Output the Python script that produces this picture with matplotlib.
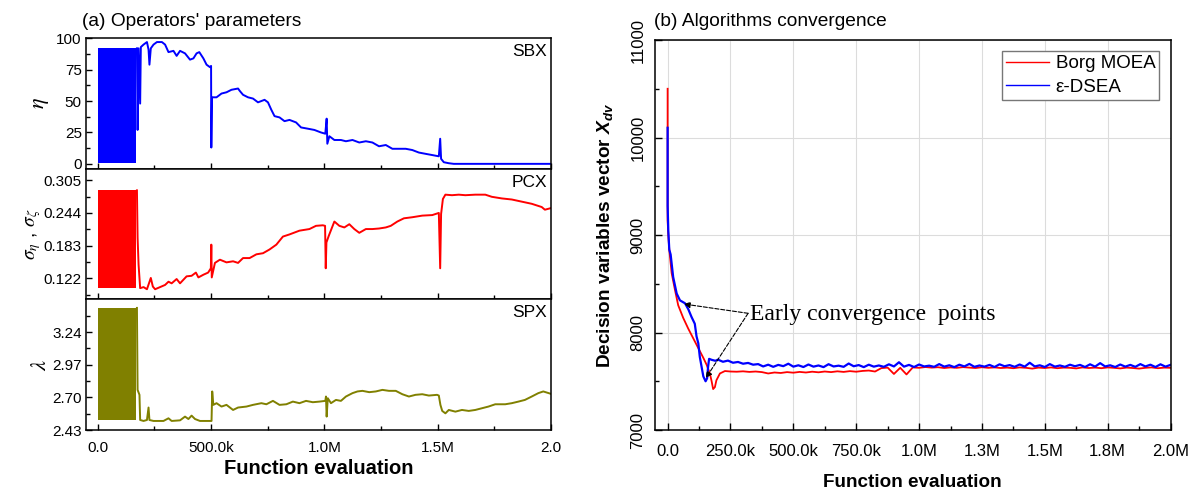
import numpy as np
import matplotlib.pyplot as plt

plt.rcParams['font.family'] = ['Liberation Sans', 'DejaVu Sans']
plt.rcParams['mathtext.fontset'] = 'custom'
plt.rcParams['mathtext.rm'] = 'Liberation Sans'
plt.rcParams['mathtext.it'] = 'Liberation Sans:italic'
plt.rcParams['mathtext.bf'] = 'Liberation Sans:bold'
plt.rcParams['mathtext.bfit'] = 'Liberation Sans:italic:bold'

# ---- (a) operators' parameters, x in thousands of evaluations ----
band_x_k = [0, 170]
sbx_band = [0.3, 92]
pcx_band = [0.104, 0.286]
spx_band = [2.513, 3.44]

sbx_x_k = [172.8, 175.7, 180, 187, 190, 202, 217, 224, 228, 234, 246, 261, 283, 297, 312,
           334, 348, 363, 385, 407, 422, 436, 448, 466, 480, 495, 500, 501, 504, 524,
           546, 568, 590, 619, 627, 641, 663, 685, 707, 736, 751, 766, 780, 802, 824,
           846, 875, 897, 927, 956, 985, 1004, 1010, 1013, 1022, 1044, 1073, 1095, 1124, 1154,
           1183, 1212, 1241, 1271, 1300, 1329, 1359, 1388, 1417, 1446, 1476, 1505, 1511, 1515, 1527,
           1549, 1571, 2000]
sbx_y = [92, 27, 92, 48, 93, 95, 97, 91, 79, 92, 95, 97, 97, 95, 89,
         90, 86, 90, 88, 83, 84, 88, 89, 84, 79, 77, 78, 13, 53, 53,
         56, 57, 59, 60, 58, 55, 53, 52, 49, 51, 49, 43, 38, 37, 34,
         35, 33, 29, 28, 27, 25, 24, 36, 16, 22, 19, 19, 18, 19, 17,
         18, 17, 14, 15, 12, 12, 12, 11, 9, 8, 7, 6, 20, 4, 1.3,
         0.5, 0, 0]

pcx_x_k = [172.8, 175.7, 180, 187, 202, 217, 234, 243, 253, 275, 297, 312, 326, 348, 363,
           392, 414, 433, 444, 466, 487, 499, 501, 503, 517, 539, 568, 597, 619, 641,
           670, 700, 729, 758, 788, 817, 846, 890, 934, 963, 993, 1003, 1006, 1009, 1019,
           1044, 1066, 1088, 1110, 1132, 1154, 1183, 1212, 1241, 1271, 1293, 1322, 1351, 1388, 1432,
           1476, 1505, 1511, 1515, 1523, 1534, 1563, 1593, 1622, 1666, 1710, 1739, 1783, 1827, 1871,
           1915, 1959, 1973, 2000]
pcx_y = [0.286, 0.198, 0.148, 0.104, 0.106, 0.102, 0.123, 0.107, 0.102, 0.106, 0.110, 0.116, 0.113, 0.121, 0.113,
         0.126, 0.127, 0.133, 0.124, 0.129, 0.133, 0.141, 0.185, 0.124, 0.151, 0.157, 0.152, 0.154, 0.151, 0.160,
         0.160, 0.167, 0.169, 0.176, 0.185, 0.200, 0.204, 0.211, 0.214, 0.220, 0.221, 0.220, 0.141, 0.189, 0.201,
         0.228, 0.220, 0.217, 0.223, 0.214, 0.207, 0.214, 0.214, 0.215, 0.217, 0.220, 0.228, 0.234, 0.236, 0.239,
         0.240, 0.244, 0.141, 0.242, 0.270, 0.278, 0.277, 0.278, 0.277, 0.278, 0.278, 0.274, 0.271, 0.269, 0.265,
         0.261, 0.255, 0.250, 0.253]

spx_x_k = [172.8, 175.7, 184, 187, 202, 217, 224, 228, 246, 290, 312, 326, 363, 385, 400,
           414, 429, 451, 502, 505, 510, 524, 546, 568, 597, 619, 656, 685, 722, 744,
           773, 802, 832, 861, 890, 919, 949, 978, 1004, 1007, 1010, 1015, 1029, 1051, 1073,
           1095, 1124, 1146, 1168, 1198, 1227, 1256, 1285, 1315, 1344, 1373, 1402, 1432, 1461, 1497,
           1505, 1512, 1520, 1534, 1549, 1578, 1607, 1637, 1666, 1695, 1724, 1754, 1798, 1827, 1856,
           1885, 1915, 1944, 1966, 2000]
spx_y = [3.44, 2.762, 2.721, 2.513, 2.505, 2.513, 2.616, 2.513, 2.505, 2.505, 2.527, 2.505, 2.510, 2.541, 2.521,
         2.549, 2.521, 2.505, 2.505, 2.749, 2.638, 2.652, 2.624, 2.638, 2.596, 2.616, 2.624, 2.638, 2.652, 2.643,
         2.671, 2.638, 2.643, 2.665, 2.652, 2.671, 2.660, 2.665, 2.671, 2.707, 2.541, 2.693, 2.652, 2.679, 2.671,
         2.707, 2.735, 2.749, 2.754, 2.743, 2.749, 2.762, 2.754, 2.754, 2.726, 2.707, 2.721, 2.726, 2.715, 2.721,
         2.715, 2.638, 2.588, 2.568, 2.596, 2.582, 2.596, 2.588, 2.596, 2.610, 2.624, 2.643, 2.643, 2.652, 2.665,
         2.679, 2.707, 2.735, 2.749, 2.729]

left_xticks = [0, 500e3, 1000e3, 1500e3, 2000e3]
left_xticklabels = ['0.0', '500.0k', '1.0M', '1.5M', '2.0']
sbx_yticks = [0, 25, 50, 75, 100]
pcx_yticks = [0.122, 0.183, 0.244, 0.305]
spx_yticks = [2.43, 2.70, 2.97, 3.24]

# ---- (b) algorithms convergence ----
borg_head_x_k = [0, 0, 2.6, 6.6, 16, 29, 42, 62, 82, 102, 122, 142, 155, 168, 175, 181, 188, 194, 208, 228]
borg_head_y = [10500, 9150, 9000, 8850, 8610, 8440, 8280, 8150, 8040, 7940, 7840, 7740, 7670, 7580, 7500,
               7420, 7440, 7510, 7580, 7605]
# sampled every 25k evaluations from 250k to 2.0M
borg_tail_y = [7600, 7598, 7602, 7596, 7600, 7594, 7580, 7590, 7585, 7594,
               7588, 7596, 7590, 7598, 7592, 7600, 7594, 7602, 7596, 7604,
               7598, 7606, 7610, 7600, 7635, 7640, 7575, 7638, 7570, 7642,
               7638, 7646, 7640, 7644, 7636, 7642, 7638, 7645, 7640, 7636,
               7644, 7638, 7642, 7636, 7640, 7634, 7642, 7638, 7630, 7640,
               7636, 7642, 7634, 7640, 7638, 7632, 7642, 7636, 7640, 7634,
               7642, 7638, 7632, 7640, 7636, 7630, 7638, 7642, 7634, 7640,
               7638]

dsea_head_x_k = [0, 0, 2.6, 6.6, 12, 22, 36, 49, 69, 82, 95, 108, 115, 122, 128, 135, 142, 151, 157, 161,
                 165, 175, 190]
dsea_head_y = [10100, 9300, 9050, 8850, 8800, 8570, 8400, 8330, 8300, 8240, 8160, 8090, 7960, 7890, 7750,
               7650, 7550, 7500, 7530, 7650, 7730, 7720, 7710]
# sampled every 20k evaluations from 200k to 2.0M
dsea_tail_y = [7722, 7700, 7712, 7690, 7698, 7680, 7688, 7670,
               7676, 7652, 7670, 7648, 7668, 7655, 7680, 7650, 7664, 7646,
               7672, 7650, 7662, 7645, 7675, 7652, 7660, 7648, 7682, 7654,
               7666, 7645, 7670, 7650, 7662, 7648, 7674, 7652, 7695, 7650,
               7668, 7646, 7672, 7652, 7660, 7648, 7676, 7650, 7664, 7645,
               7670, 7652, 7678, 7648, 7662, 7650, 7668, 7646, 7674, 7654,
               7666, 7648, 7672, 7650, 7690, 7652, 7664, 7646, 7676, 7650,
               7662, 7648, 7670, 7654, 7668, 7646, 7674, 7650, 7686, 7652,
               7664, 7646, 7672, 7650, 7668, 7648, 7676, 7652, 7670, 7646,
               7674, 7650, 7668]

right_xticks = [0, 250e3, 500e3, 750e3, 1000e3, 1250e3, 1500e3, 1750e3, 2000e3]
right_xticklabels = ['0.0', '250.0k', '500.0k', '750.0k', '1.0M', '1.3M', '1.5M', '1.8M', '2.0M']
right_yticks = [7000, 8000, 9000, 10000, 11000]

borg_x = np.concatenate([np.array(borg_head_x_k) * 1e3, np.arange(250e3, 2000e3 + 1, 25e3)])
borg_y = np.array(borg_head_y + borg_tail_y)
dsea_x = np.concatenate([np.array(dsea_head_x_k) * 1e3, np.arange(200e3, 2000e3 + 1, 20e3)])
dsea_y = np.array(dsea_head_y + dsea_tail_y)

fig = plt.figure(figsize=(11.96, 4.91), dpi=100)

# left stack
gs = fig.add_gridspec(3, 1, left=0.0719, right=0.4607, top=0.922, bottom=0.1242, hspace=0)
ax1 = fig.add_subplot(gs[0])
ax2 = fig.add_subplot(gs[1], sharex=ax1)
ax3 = fig.add_subplot(gs[2], sharex=ax1)

panels = [
    (ax1, sbx_band, sbx_x_k, sbx_y, '#0000ff', 'SBX', (-4, 100), sbx_yticks, r'$\eta$', 16, -0.075),
    (ax2, pcx_band, pcx_x_k, pcx_y, '#ff0000', 'PCX', (0.083, 0.326), pcx_yticks,
     r'$\sigma_\eta$ , $\sigma_\zeta$', 14, -0.092),
    (ax3, spx_band, spx_x_k, spx_y, '#808000', 'SPX', (2.43, 3.51), spx_yticks, r'$\lambda$', 16, -0.075),
]
for ax, band, xs, ys, col, name, ylim, yt, ylab, yfs, ylx in panels:
    bx = np.array(band_x_k) * 1e3
    ax.fill_between(bx, [band[0]] * 2, [band[1]] * 2, color=col, lw=0)
    ax.plot(np.array(xs) * 1e3, ys, color=col, lw=1.4)
    step = yt[1] - yt[0]
    ax.set_yticks(yt)
    ax.set_yticks([v + step / 2 for v in [yt[0] - step] + yt], minor=True)
    ax.set_ylim(*ylim)
    ax.tick_params(which='both', direction='in', top=False, right=False, width=1,
                   labelsize=11, pad=3)
    ax.tick_params(which='major', length=4)
    ax.tick_params(which='minor', length=3)
    ax.text(0.991, 0.897, name, transform=ax.transAxes, ha='right', va='center', fontsize=12.5)
    ax.set_ylabel(ylab, fontsize=yfs, math_fontfamily='stix')
    ax.yaxis.set_label_coords(ylx, 0.5)
    for s in ax.spines.values():
        s.set_linewidth(1.1)

ax1.set_xlim(-52e3, 2000e3)
ax1.set_xticks(left_xticks)
ax1.set_xticks([250e3, 750e3, 1250e3, 1750e3], minor=True)
ax3.set_xticklabels(left_xticklabels)
for ax in (ax1, ax2):
    ax.tick_params(axis='x', which='both', labelbottom=False)
ax3.tick_params(axis='x', pad=8)
ax3.set_xlabel('Function evaluation', fontsize=14.5, fontweight='bold')
ax3.xaxis.set_label_coords(0.5, -0.225)

fig.text(82 / 1196, 1 - 22 / 491, "(a) Operators' parameters", fontsize=13.8, va='center', ha='left')

# right panel
axr = fig.add_axes([0.5477, 0.1242, 0.9787 - 0.5477, 0.9185 - 0.1242])
axr.grid(True, which='major', color='#dcdcdc', lw=0.8)
axr.set_axisbelow(True)
axr.plot(borg_x, borg_y, color='#ff0000', lw=1.3, label='Borg MOEA')
axr.plot(dsea_x, dsea_y, color='#0000ff', lw=1.6, label='\u03b5-DSEA')
axr.set_xlim(-50e3, 2000e3)
axr.set_ylim(7000, 11000)
axr.set_xticks(right_xticks)
axr.set_xticklabels(right_xticklabels)
axr.set_xticks([125e3 + 250e3 * i for i in range(8)], minor=True)
axr.set_yticks(right_yticks)
axr.set_yticks([7500, 8500, 9500, 10500], minor=True)
axr.tick_params(which='both', direction='in', top=False, right=False, width=1, labelsize=12)
axr.tick_params(which='major', length=5)
axr.tick_params(which='minor', length=3)
axr.tick_params(axis='x', pad=10)
axr.tick_params(axis='y', pad=7)
for lbl in axr.get_yticklabels():
    lbl.set_rotation(90)
    lbl.set_va('center')
for s in axr.spines.values():
    s.set_linewidth(1.1)
axr.set_xlabel('Function evaluation', fontsize=13.6, fontweight='bold')
axr.xaxis.set_label_coords(0.5, -0.113)
axr.set_ylabel(r'Decision variables vector $\mathbfit{X}_{\mathbfit{dv}}$', fontsize=13.7,
               fontweight='bold')
axr.yaxis.set_label_coords(-0.078, 0.5)

leg = axr.legend(loc='upper right', fontsize=13.5, frameon=True, fancybox=False,
                 edgecolor='#777777', framealpha=1, handlelength=2.3, handletextpad=0.35,
                 borderpad=0.2, labelspacing=0.35, borderaxespad=0.6)
leg.get_frame().set_linewidth(1.0)
for h in leg.get_lines():
    h.set_linewidth(1.0)

tail = (320e3, 8197)
for target in [(65e3, 8292), (152e3, 7533)]:
    axr.annotate('', xy=target, xytext=tail,
                 arrowprops=dict(arrowstyle='-|>', linestyle='--', lw=0.8, color='black',
                                 mutation_scale=9, shrinkA=0, shrinkB=0))
axr.text(327e3, 8130, 'Early convergence  points', fontsize=17, family='Liberation Serif',
         ha='left', va='baseline')

fig.text(654 / 1196, 1 - 22 / 491, '(b) Algorithms convergence', fontsize=13.8, va='center', ha='left')

fig.savefig('out.png', dpi=100)
